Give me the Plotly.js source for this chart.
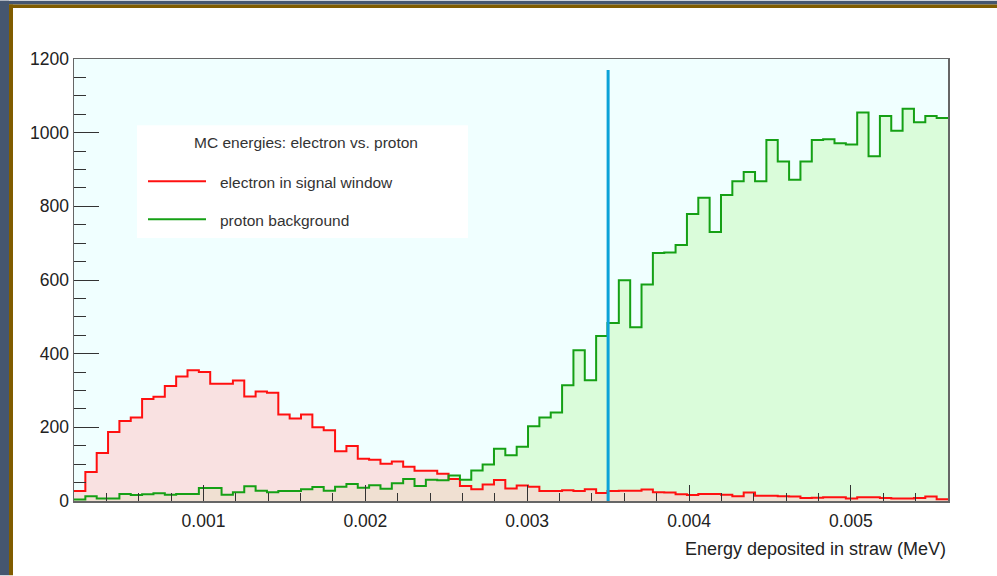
<!DOCTYPE html>
<html><head><meta charset="utf-8">
<script src="https://cdn.plot.ly/plotly-3.0.1.min.js"></script>
<style>html,body{margin:0;padding:0;background:#fff;}#chart{width:997px;height:576px;}</style>
</head><body><div id="chart"></div>
<script>
// ---- data ----
const electronCounts = [27,79,130,187,217,227,277,283,312,338,355,350,318,318,327,284,297,294,235,224,
  235,200,192,135,149,115,112,101,107,93,82,82,74,60,41,32,45,57,34,42,
  39,27,27,29,27,32,22,27,28,28,31,24,23,18,16,19,19,17,13,23,
  14,14,13,12,8,9,10,10,7,10,10,8,7,7,8,12,5];
const protonCounts = [4,13,7,7,19,16,18,21,17,19,19,35,35,17,24,40,28,24,27,27,
  32,38,28,39,46,36,43,33,48,60,41,58,56,69,58,83,99,142,124,147,
  203,227,240,314,409,328,448,483,599,472,588,673,675,695,779,823,730,831,868,893,
  868,980,922,872,922,980,982,971,968,1055,936,1045,1005,1065,1028,1045,1040];
const histRange = [0.0002, 0.0056];
const cutEnergy = 0.0035;
const cutLineTop = 1170;
const xTickVals = [0.001, 0.002, 0.003, 0.004, 0.005];
const xTickText = ['0.001', '0.002', '0.003', '0.004', '0.005'];
const yTickVals = [0, 200, 400, 600, 800, 1000, 1200];
const yTickText = ['0', '200', '400', '600', '800', '1000', '1200'];
const legendTitle = 'MC energies: electron vs. proton';
const seriesNames = ['electron in signal window', 'proton background'];
const xAxisTitle = 'Energy deposited in straw (MeV)';

function stepXY(counts) {
  const n = counts.length, w = (histRange[1] - histRange[0]) / n;
  const x = [], y = [];
  for (let i = 0; i < n; i++) { x.push(histRange[0] + i * w); y.push(counts[i]); }
  x.push(histRange[1]); y.push(counts[n - 1]);
  return {x, y};
}

const FONT = 'Liberation Sans, Arial, Helvetica, sans-serif';
const pe = stepXY(electronCounts), pp = stepXY(protonCounts);
const GREEN = '#15a015', RED = '#ff1010';

const traces = [
  // proton fill (below)
  {x: pp.x, y: pp.y, type: 'scatter', mode: 'lines', line: {shape: 'hv', color: 'rgba(0,0,0,0)', width: 0},
   fill: 'tozeroy', fillcolor: 'rgba(130,240,70,0.2)', name: seriesNames[1] + ' fill', hoverinfo: 'skip'},
  // electron histogram
  {x: pe.x, y: pe.y, type: 'scatter', mode: 'lines', line: {shape: 'hv', color: RED, width: 2},
   fill: 'tozeroy', fillcolor: 'rgba(255,205,205,0.6)', name: seriesNames[0], hoverinfo: 'skip'},
  // proton outline (on top)
  {x: pp.x, y: pp.y, type: 'scatter', mode: 'lines', line: {shape: 'hv', color: GREEN, width: 2},
   name: seriesNames[1], hoverinfo: 'skip'},
  {x: [cutEnergy, cutEnergy], y: [0, cutLineTop], type: 'scatter', mode: 'lines',
   line: {color: '#0aa2d8', width: 3}, name: 'cut', hoverinfo: 'skip'}
];

// helpers to convert pixel coords to paper coords
const L = 74, R = 948, T = 58.5, B = 501.5;
const px = v => (v - L) / (R - L);
const py = v => (B - v) / (B - T);

const slate = '#45566f', brown = '#805c00';
const shapes = [
  {type: 'rect', xref: 'paper', yref: 'paper', x0: px(0), x1: px(9), y0: py(576), y1: py(0), fillcolor: slate, line: {width: 0}},
  {type: 'rect', xref: 'paper', yref: 'paper', x0: px(0), x1: px(997), y0: py(4), y1: py(0), fillcolor: slate, line: {width: 0}},
  {type: 'rect', xref: 'paper', yref: 'paper', x0: px(9), x1: px(13), y0: py(576), y1: py(4), fillcolor: brown, line: {width: 0}},
  {type: 'rect', xref: 'paper', yref: 'paper', x0: px(9), x1: px(997), y0: py(7.5), y1: py(4), fillcolor: brown, line: {width: 0}},
  // legend box
  {type: 'rect', xref: 'paper', yref: 'paper', x0: px(137), x1: px(468), y0: py(238), y1: py(125), fillcolor: '#ffffff', line: {width: 0}, layer: 'above'},
  {type: 'line', xref: 'paper', yref: 'paper', x0: px(148), x1: px(206), y0: py(181), y1: py(181), line: {color: RED, width: 2}, layer: 'above'},
  {type: 'line', xref: 'paper', yref: 'paper', x0: px(148), x1: px(206), y0: py(219), y1: py(219), line: {color: GREEN, width: 2}, layer: 'above'}
];

const annotations = [
  {text: legendTitle, xref: 'paper', yref: 'paper', x: px(306), y: py(142), xanchor: 'center', yanchor: 'middle', showarrow: false, font: {family: FONT, size: 15.5, color: '#333'}},
  {text: seriesNames[0], xref: 'paper', yref: 'paper', x: px(218), y: py(182), xanchor: 'left', yanchor: 'middle', showarrow: false, font: {family: FONT, size: 15.5, color: '#333'}},
  {text: seriesNames[1], xref: 'paper', yref: 'paper', x: px(218), y: py(220), xanchor: 'left', yanchor: 'middle', showarrow: false, font: {family: FONT, size: 15.5, color: '#333'}},
  {text: xAxisTitle, xref: 'paper', yref: 'paper', x: 1, y: py(550), xanchor: 'right', yanchor: 'middle', showarrow: false, font: {family: FONT, size: 18, color: '#222'}}
];

const layout = {
  width: 997, height: 576,
  margin: {l: L, r: 997 - R, t: T, b: 576 - B, pad: 0},
  paper_bgcolor: '#ffffff', plot_bgcolor: '#f0ffff',
  showlegend: false,
  font: {family: FONT, size: 17, color: '#222'},
  xaxis: {range: histRange, tickvals: xTickVals, ticktext: xTickText, ticks: 'inside', ticklen: 16, tickwidth: 1, tickcolor: '#333',
    minor: {ticks: 'inside', ticklen: 8, dtick: 0.0002, tick0: 0, tickcolor: '#333', showgrid: false},
    showgrid: false, zeroline: false, showline: true, mirror: true, linecolor: '#666', linewidth: 1.5,
    ticklabelstandoff: 3,
    tickfont: {family: FONT, size: 17.5, color: '#222'}},
  yaxis: {range: [0, 1200], tickvals: yTickVals, ticktext: yTickText, ticks: 'inside', ticklen: 25, tickwidth: 1, tickcolor: '#333',
    minor: {ticks: 'inside', ticklen: 12, dtick: 50, tick0: 0, tickcolor: '#333', showgrid: false},
    showgrid: false, zeroline: false, showline: true, mirror: true, linecolor: '#666', linewidth: 1.5,
    tickfont: {family: FONT, size: 17.5, color: '#222'}},
  shapes, annotations
};

Plotly.newPlot('chart', traces, layout, {staticPlot: true, displayModeBar: false});
</script></body></html>
